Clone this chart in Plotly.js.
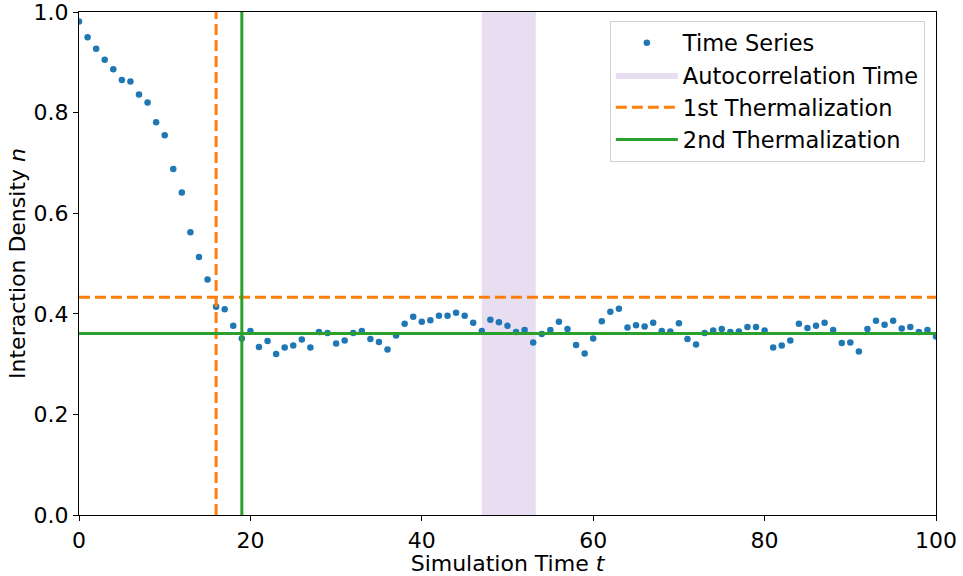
<!DOCTYPE html>
<html>
<head>
<meta charset="utf-8">
<script src="https://cdn.plot.ly/plotly-3.0.1.min.js"></script>
<style>html,body{margin:0;padding:0;background:#fff}#chart{width:963px;height:576px}</style>
</head>
<body>
<div id="chart"></div>
<script>
// Simulation time steps and interaction density values
const timeSteps = Array.from({length: 101}, (_, i) => i);
const density = [
  0.981, 0.950, 0.927, 0.905, 0.886, 0.865, 0.862, 0.836, 0.820, 0.781,
  0.755, 0.688, 0.641, 0.562, 0.513, 0.468, 0.414, 0.409, 0.376, 0.351,
  0.366, 0.334, 0.346, 0.320, 0.333, 0.337, 0.349, 0.333, 0.364, 0.362,
  0.341, 0.347, 0.362, 0.366, 0.350, 0.344, 0.329, 0.357, 0.380, 0.394,
  0.384, 0.387, 0.396, 0.396, 0.402, 0.396, 0.382, 0.366, 0.388, 0.383,
  0.376, 0.364, 0.368, 0.343, 0.360, 0.368, 0.384, 0.370, 0.338, 0.321,
  0.351, 0.385, 0.404, 0.410, 0.373, 0.377, 0.375, 0.382, 0.366, 0.365,
  0.381, 0.350, 0.339, 0.362, 0.367, 0.370, 0.364, 0.365, 0.374, 0.374,
  0.367, 0.333, 0.337, 0.347, 0.380, 0.372, 0.376, 0.382, 0.368, 0.342,
  0.343, 0.325, 0.370, 0.386, 0.378, 0.386, 0.371, 0.374, 0.364, 0.368,
  0.355
];
// Autocorrelation window
const autocorrStart = 47.0;
const autocorrEnd = 53.3;
// Thermalization: time and level
const therm1 = {time: 16, level: 0.433};
const therm2 = {time: 19, level: 0.361};
const xRange = [0, 100];
const yRange = [0, 1];
const xTicks = [0, 20, 40, 60, 80, 100];
const yTicks = [0, 0.2, 0.4, 0.6, 0.8, 1.0];

const FS = 22;

const traces = [
  {
    x: [autocorrStart, autocorrEnd, autocorrEnd, autocorrStart, autocorrStart],
    y: [yRange[0], yRange[0], yRange[1], yRange[1], yRange[0]],
    type: 'scatter', mode: 'lines', fill: 'toself',
    fillcolor: 'rgba(148,103,189,0.22)', line: {width: 0, color: 'rgba(0,0,0,0)'},
    name: 'Autocorrelation Time', legendrank: 2, hoverinfo: 'skip'
  },
  {
    x: timeSteps, y: density, type: 'scatter', mode: 'markers',
    marker: {color: '#1f77b4', size: 6.5},
    name: 'Time Series', legendrank: 1
  },
  {
    x: [xRange[0], xRange[1], null, therm1.time, therm1.time],
    y: [therm1.level, therm1.level, null, yRange[0], yRange[1]],
    type: 'scatter', mode: 'lines',
    line: {color: '#ff7f0e', width: 3, dash: '11px,5px'},
    name: '1st Thermalization', legendrank: 3
  },
  {
    x: [xRange[0], xRange[1], null, therm2.time, therm2.time],
    y: [therm2.level, therm2.level, null, yRange[0], yRange[1]],
    type: 'scatter', mode: 'lines',
    line: {color: '#2ca02c', width: 3},
    name: '2nd Thermalization', legendrank: 4
  }
];

const axisCommon = {
  showline: true, linecolor: '#000', linewidth: 1.2, mirror: true,
  ticks: 'outside', ticklen: 5, tickwidth: 1, tickcolor: '#000',
  showgrid: false, zeroline: false, ticklabeloverflow: 'allow',
  tickfont: {family: 'DejaVu Sans', size: FS, color: '#000'}
};

const layout = {
  width: 963, height: 576,
  margin: {l: 79, r: 27, t: 12, b: 61},
  paper_bgcolor: '#fff', plot_bgcolor: '#fff',
  font: {family: 'DejaVu Sans', color: '#000'},
  showlegend: true,
  legend: {
    x: 0.987, y: 0.983, xanchor: 'right', yanchor: 'top',
    bgcolor: 'rgba(255,255,255,0.8)', bordercolor: '#d0d0d0', borderwidth: 1,
    font: {family: 'DejaVu Sans', size: 22.5, color: '#000'},
    traceorder: 'normal', itemwidth: 62
  },
  xaxis: Object.assign({}, axisCommon, {
    range: xRange, tickvals: xTicks,
    title: {text: 'Simulation Time <i>t</i>', font: {family: 'DejaVu Sans', size: FS}, standoff: 0}
  }),
  yaxis: Object.assign({}, axisCommon, {
    range: yRange, tickvals: yTicks, tickformat: '.1f',
    title: {text: 'Interaction Density <i>n</i>', font: {family: 'DejaVu Sans', size: FS}, standoff: 1}
  })
};

Plotly.newPlot('chart', traces, layout, {displayModeBar: false, staticPlot: true});
</script>
</body>
</html>
